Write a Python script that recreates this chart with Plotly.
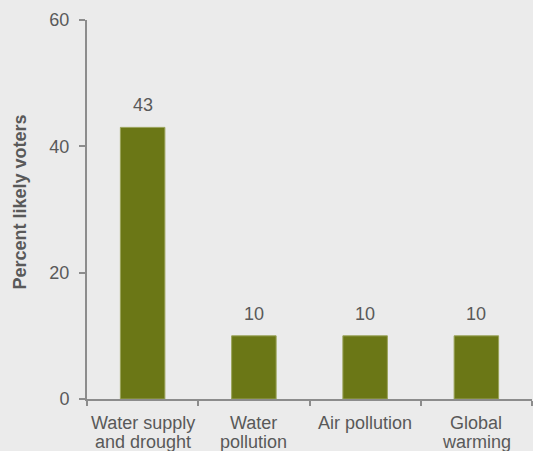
import plotly.graph_objects as go

categories = ["Water supply<br>and drought", "Water<br>pollution", "Air pollution", "Global<br>warming"]
values = [43, 10, 10, 10]
y_ticks = [0, 20, 40, 60]
y_title = "Percent likely voters"

TEXT = "#595959"
AXIS = "#8c8c8c"
BAR = "#6b7716"
BG = "#ebebeb"
FONT = "Liberation Sans, Arial, sans-serif"
font = dict(family=FONT, size=18, color=TEXT)

fig = go.Figure()
fig.add_trace(go.Bar(
    x=categories, y=values,
    marker=dict(color=BAR, line=dict(color="#9aa35a", width=1)),
    hoverinfo="skip",
))
# value labels above bars
for c, v in zip(categories, values):
    fig.add_annotation(x=c, y=v, text=str(v), showarrow=False,
                       yanchor="bottom", yshift=10, font=font)
# category labels (tight line spacing)
for c in categories:
    for i, line in enumerate(c.split("<br>")):
        fig.add_annotation(x=c, y=0, text=line, showarrow=False,
                           yanchor="top", yshift=-12 - 19 * i, font=font)
# y-axis title
fig.add_annotation(xref="paper", yref="paper", x=0, y=(400 - 203) / 380,
                   xshift=-67, text="<b>" + y_title + "</b>", textangle=-90,
                   showarrow=False, xanchor="center", yanchor="middle", font=font)

fig.update_layout(
    width=533, height=451,
    margin=dict(l=87, r=1, t=20, b=52, autoexpand=False),
    paper_bgcolor=BG, plot_bgcolor=BG,
    bargap=0.6,
    showlegend=False,
    font=font,
)
fig.update_xaxes(
    showline=True, linecolor=AXIS, linewidth=2,
    ticks="outside", tickson="boundaries", ticklen=5, tickwidth=2, tickcolor=AXIS,
    showgrid=False, zeroline=False, showticklabels=False, automargin=False,
)
fig.update_yaxes(
    range=[0, 60], tickvals=y_ticks,
    showline=True, linecolor=AXIS, linewidth=2,
    ticks="outside", ticklen=6, tickwidth=2, tickcolor=AXIS,
    showgrid=False, zeroline=False, automargin=False,
    tickfont=font, ticklabelstandoff=6,
)
fig.write_html("out.html")
